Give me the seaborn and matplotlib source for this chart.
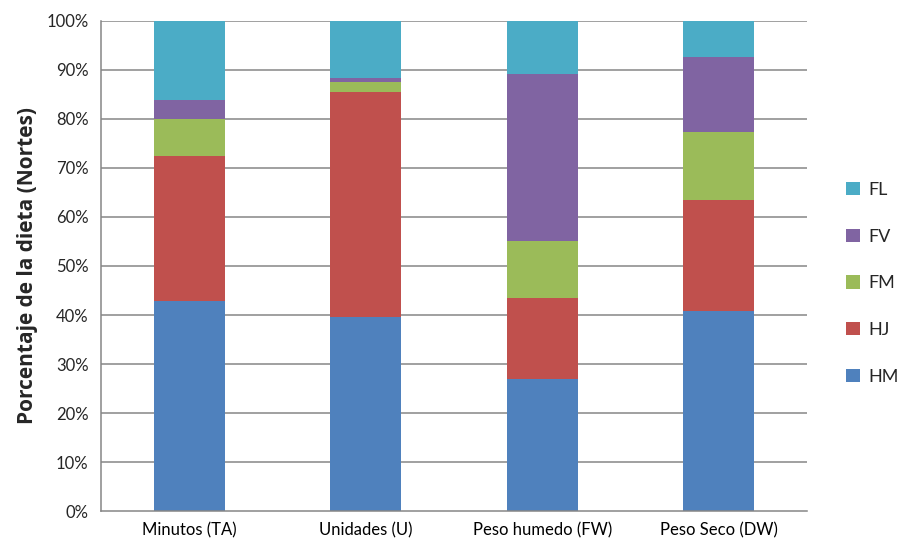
import matplotlib
matplotlib.use("Agg")
import matplotlib.pyplot as plt
from matplotlib.patches import Patch
from matplotlib.ticker import FixedLocator, FuncFormatter
import numpy as np
import pandas as pd
import seaborn as sns

# Diet composition (% of total) by measurement method
categories = ["Minutos (TA)", "Unidades (U)", "Peso humedo (FW)", "Peso Seco (DW)"]
HM = [42.9, 39.6, 26.9, 40.9]
HJ = [29.5, 46.0, 16.5, 22.5]
FM = [7.6, 2.0, 11.6, 13.9]
FV = [3.8, 0.8, 34.1, 15.4]
FL = [16.2, 11.6, 10.9, 7.3]

groups = ["HM", "HJ", "FM", "FV", "FL"]
colors = {"HM": "#4F81BD", "HJ": "#C0504D", "FM": "#9BBB59",
          "FV": "#8064A2", "FL": "#4BACC6"}

df = pd.DataFrame({"categoria": categories, "HM": HM, "HJ": HJ,
                   "FM": FM, "FV": FV, "FL": FL})
cum = df[groups].cumsum(axis=1)
cum["categoria"] = df["categoria"]

sns.set_style("white")
plt.rcParams["font.family"] = ["Lato", "DejaVu Sans"]

fig = plt.figure(figsize=(9.04, 5.48), dpi=100)
ax = fig.add_axes([0.1117, 0.0675, 0.7810, 0.8942])

grid_c = "#868686"
for y in range(10, 101, 10):
    ax.axhline(y, color=grid_c, lw=1.1, zorder=0)

# stacked bars: draw cumulative totals from the top layer down
for g in reversed(groups):
    sns.barplot(data=cum, x="categoria", y=g, color=colors[g], width=0.4,
                saturation=1, ax=ax, zorder=2, linewidth=0)

ax.set_xlim(-0.5, 3.5)
ax.set_ylim(0, 100)
ax.set_yticks(np.arange(0, 101, 10))
ax.yaxis.set_major_formatter(FuncFormatter(lambda v, p: f"{int(v)}%"))
ax.set_xticks(range(4))
ax.set_xticklabels(categories)
ax.xaxis.set_minor_locator(FixedLocator([0.5, 1.5, 2.5, 3.5]))
ax.tick_params(axis="x", which="major", length=0, pad=8, labelsize=12,
               colors="black")
ax.tick_params(axis="x", which="minor", length=5, width=1.1, color=grid_c,
               direction="out")
ax.tick_params(axis="y", length=5, width=1.1, color=grid_c, direction="out",
               labelsize=12, pad=4)
ax.set_xlabel("")
ax.set_ylabel("Porcentaje de la dieta (Nortes)", fontsize=15,
              fontweight="bold", labelpad=6,
              family=["Open Sans", "DejaVu Sans"])

for s in ["top", "right"]:
    ax.spines[s].set_visible(False)
for s in ["left", "bottom"]:
    ax.spines[s].set_color(grid_c)
    ax.spines[s].set_linewidth(1.1)

handles = [Patch(facecolor=colors[g], edgecolor="none", label=g)
           for g in reversed(groups)]
fig.legend(handles=handles, loc="center left", bbox_to_anchor=(0.928, 0.483),
           frameon=False, fontsize=13, handlelength=0.75, handleheight=0.75,
           handletextpad=0.5, labelspacing=1.7, borderaxespad=0)

fig.savefig("out.png", dpi=100)
